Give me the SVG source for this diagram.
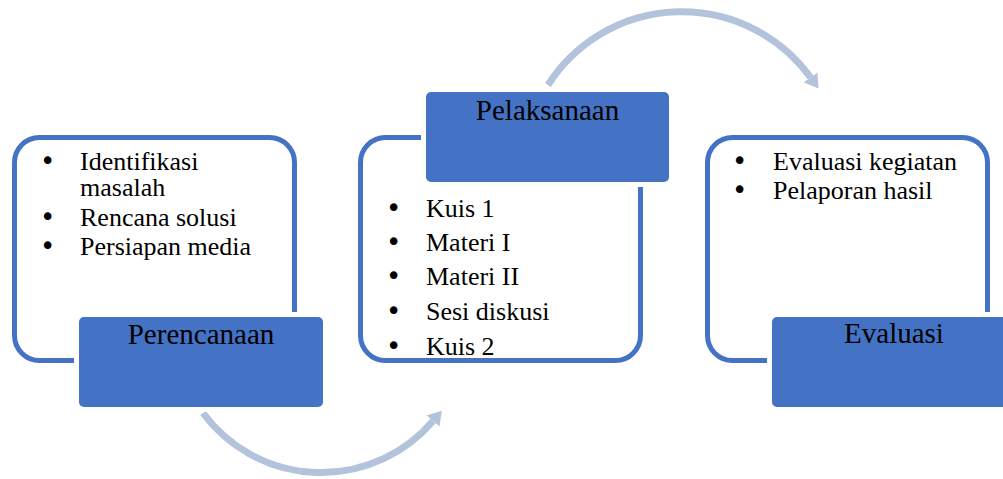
<svg xmlns="http://www.w3.org/2000/svg" width="1003" height="479" viewBox="0 0 1003 479">
  <defs>
    <style>
      .frame { fill: #FFFFFF; stroke: #4472C4; stroke-width: 5; }
      .title-box { fill: #4472C4; stroke: #FFFFFF; stroke-width: 10; paint-order: stroke; }
      .title { font-family: "Liberation Serif", "Times New Roman", serif; font-size: 29px; fill: #000000; text-anchor: middle; }
      .item { font-family: "Liberation Serif", "Times New Roman", serif; font-size: 26px; fill: #000000; }
      .b { font-family: "DejaVu Sans", sans-serif; font-size: 26px; }
      .flow { fill: none; stroke: #B4C3DC; stroke-width: 7; }
    </style>
    <marker id="head" markerUnits="userSpaceOnUse" viewBox="0 -9 14 18" refX="0" refY="0" markerWidth="14" markerHeight="18" orient="auto">
      <path d="M0,-8.5 L13.5,0 L0,8.5 z" fill="#B4C3DC"/>
    </marker>
  </defs>
  <rect width="1003" height="479" fill="#FFFFFF"/>

  <g id="connectors">
    <path class="flow" d="M 203 413 A 147 147 0 0 0 433 421" marker-end="url(#head)"/>
    <path class="flow" d="M 548 85 A 159 159 0 0 1 810.6 77.5" marker-end="url(#head)"/>
  </g>

  <g id="node-perencanaan">
    <rect class="frame" x="14.5" y="137.5" width="280" height="223" rx="25"/>
    <text class="item" y="170"><tspan class="b" x="40">•</tspan><tspan x="80">Identifikasi</tspan><tspan x="80" dy="26">masalah</tspan></text>
    <text class="item" y="226"><tspan class="b" x="40">•</tspan><tspan x="80">Rencana solusi</tspan></text>
    <text class="item" y="255"><tspan class="b" x="40">•</tspan><tspan x="80">Persiapan media</tspan></text>
    <rect class="title-box" x="79" y="317" width="244" height="90" rx="5"/>
    <text class="title" x="201" y="344">Perencanaan</text>
  </g>

  <g id="node-pelaksanaan">
    <rect class="frame" x="360.5" y="137.5" width="280" height="223" rx="25"/>
    <rect class="title-box" x="426" y="92" width="243" height="90" rx="5"/>
    <text class="title" x="547.5" y="120">Pelaksanaan</text>
    <text class="item" y="217"><tspan class="b" x="386">•</tspan><tspan x="426">Kuis 1</tspan></text>
    <text class="item" y="251"><tspan class="b" x="386">•</tspan><tspan x="426">Materi I</tspan></text>
    <text class="item" y="285"><tspan class="b" x="386">•</tspan><tspan x="426">Materi II</tspan></text>
    <text class="item" y="320"><tspan class="b" x="386">•</tspan><tspan x="426">Sesi diskusi</tspan></text>
    <text class="item" y="355"><tspan class="b" x="386">•</tspan><tspan x="426">Kuis 2</tspan></text>
  </g>

  <g id="node-evaluasi">
    <rect class="frame" x="707.5" y="137.5" width="280" height="223" rx="25"/>
    <text class="item" y="170"><tspan class="b" x="732">•</tspan><tspan x="773">Evaluasi kegiatan</tspan></text>
    <text class="item" y="199"><tspan class="b" x="732">•</tspan><tspan x="773">Pelaporan hasil</tspan></text>
    <rect class="title-box" x="772" y="317" width="244" height="90" rx="5"/>
    <text class="title" x="894" y="343">Evaluasi</text>
  </g>
</svg>
